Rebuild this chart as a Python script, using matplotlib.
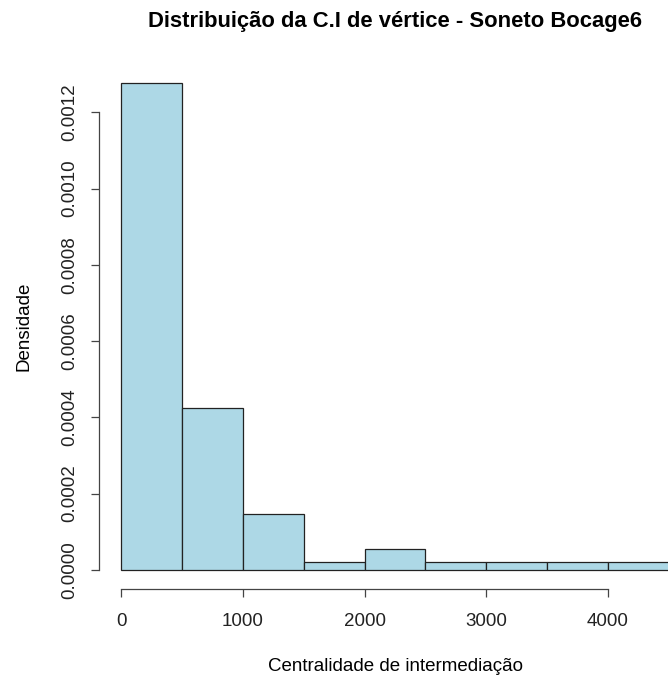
import matplotlib
matplotlib.use("Agg")
import matplotlib.pyplot as plt
from matplotlib.ticker import FixedLocator, FormatStrFormatter

plt.rcParams['font.family'] = ['Liberation Sans', 'DejaVu Sans']

# histogram (density per bin of width 500)
bin_edges = [0, 500, 1000, 1500, 2000, 2500, 3000, 3500, 4000, 4500]
densities = [0.001278, 0.000425, 0.000147, 0.0000195, 0.0000555,
             0.0000195, 0.0000195, 0.0000195, 0.0000195]
x_ticks = [0, 1000, 2000, 3000, 4000]
y_ticks = [0.0, 0.0002, 0.0004, 0.0006, 0.0008, 0.0010, 0.0012]

fig = plt.figure(figsize=(6.68, 6.78), dpi=100)
# plot region runs past the right edge, like the cropped original
ax = fig.add_axes([99.3 / 668, 1 - 589.3 / 678, (690.8 - 99.3) / 668, (589.3 - 63.1) / 678])

ax.hist(bin_edges[:-1], bins=bin_edges, weights=densities,
        color="lightblue", edgecolor="#222222", linewidth=0.9)

ymax = max(densities)
ax.set_xlim(-0.04 * 4500, 4500 * 1.04)
ax.set_ylim(-0.04 * ymax, ymax * 1.04)

for s in ("top", "right"):
    ax.spines[s].set_visible(False)
ax.spines["bottom"].set_bounds(0, 4000)
ax.spines["left"].set_bounds(0, 0.0012)
for s in ("bottom", "left"):
    ax.spines[s].set_color("#444444")
    ax.spines[s].set_linewidth(0.9)

ax.xaxis.set_major_locator(FixedLocator(x_ticks))
ax.yaxis.set_major_locator(FixedLocator(y_ticks))
ax.yaxis.set_major_formatter(FormatStrFormatter("%.4f"))
ax.tick_params(axis="both", direction="out", length=6, width=0.9,
               color="#444444", labelsize=13.5, labelcolor="#222222")
ax.tick_params(axis="x", pad=11)
ax.tick_params(axis="y", pad=9)
for lbl in ax.get_yticklabels():
    lbl.set_rotation(90)
    lbl.set_va("center")

ax.set_title("Distribuição da C.I de vértice - Soneto Bocage6",
             fontsize=15.8, fontweight="bold", pad=26)
ax.set_xlabel("Centralidade de intermediação", fontsize=13.5, labelpad=20)
ax.set_ylabel("Densidade", fontsize=13.5, labelpad=21)

fig.savefig("out.png", dpi=100)
